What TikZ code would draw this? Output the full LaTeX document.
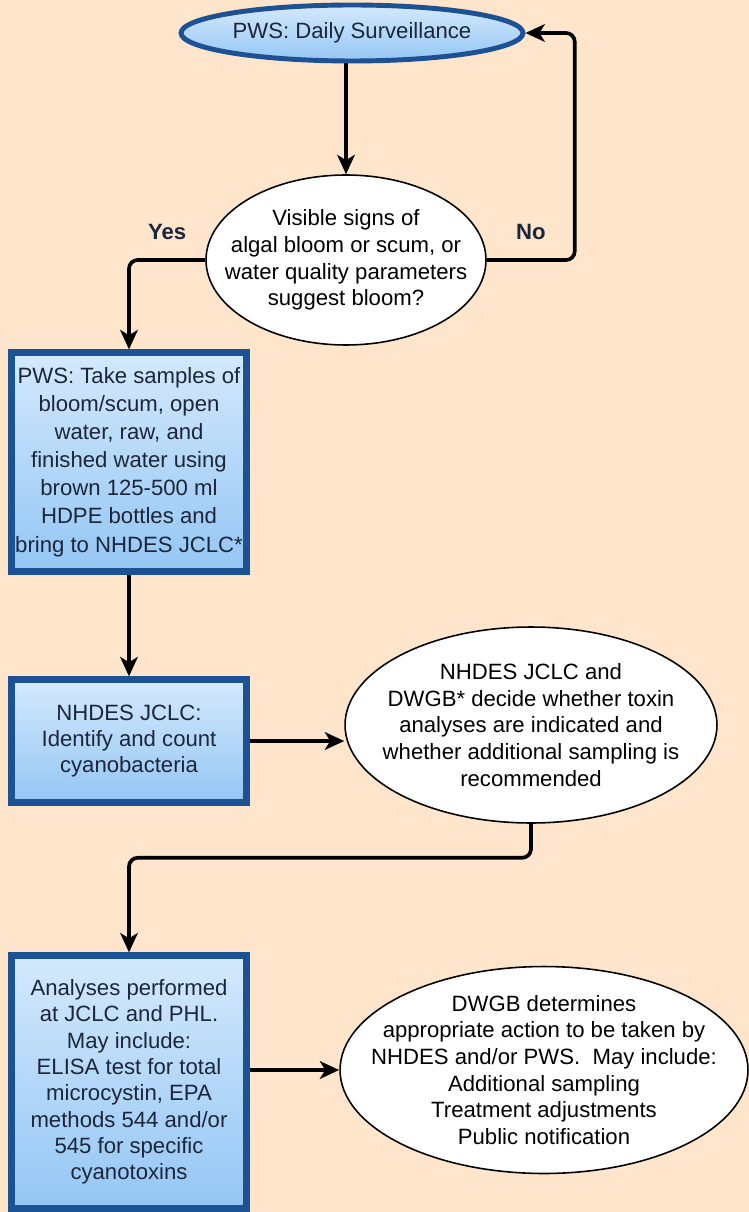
\documentclass[tikz,border=0pt]{standalone}
\usepackage{fontspec}
\setmainfont{Liberation Sans}
\usetikzlibrary{shapes.geometric,arrows.meta}

\definecolor{peach}{RGB}{254,229,204}
\definecolor{boxblue}{RGB}{28,82,148}
\definecolor{boxtop}{RGB}{212,233,252}
\definecolor{boxbot}{RGB}{148,198,244}
\definecolor{ink}{RGB}{28,38,58}

\begin{document}
\begin{tikzpicture}[x=0.02cm, y=-0.02cm, node distance = 1cm]

\tikzstyle{box1}=[rectangle, draw=boxblue, line width=3.6pt, top color=boxtop, bottom color=boxbot, text=ink, align=center, minimum width=4.7cm, inner sep=0pt, font=\fontsize{12.6}{15}\selectfont]
\tikzstyle{start}=[ellipse, draw=boxblue, line width=2.8pt, top color=boxtop, bottom color=boxbot, text=ink, inner xsep=-10pt, inner ysep=0pt, font=\fontsize{12.6}{15.15}\selectfont]
\tikzstyle{bubble}=[ellipse, draw, line width=0.9pt, fill=white, align=center, inner xsep=-24pt, inner ysep=-4pt, font=\fontsize{12.6}{15.15}\selectfont]
\tikzstyle{arrow}=[-{Stealth[length=11pt, width=10pt, inset=3pt]}, line width=2.1pt, rounded corners=5pt]
\tikzstyle{answer}=[font=\fontsize{12.6}{15.15}\selectfont\bfseries, text=ink]

\useasboundingbox (0,0) rectangle (749,1212);
\fill [peach] (0,0) rectangle (749,1212);

\node (Surv) [start, minimum width=6.84cm, minimum height=1.12cm] at (352,33) {PWS: Daily Surveillance};

\node (Bloom) [bubble, minimum width=5.6cm, minimum height=3.4cm] at (346,260) {Visible signs of\\ algal bloom or scum, or\\ water quality parameters\\ suggest bloom?};

\node (Sample) [box1, minimum height=4.38cm, font=\fontsize{12.6}{16}\selectfont] at (129,462) {PWS: Take samples of\\ bloom/scum, open\\ water, raw, and\\ finished water using\\ brown 125-500 ml\\ HDPE bottles and\\ bring to NHDES JCLC*};

\node (Count) [box1, minimum height=2.46cm] at (129,741) {NHDES JCLC:\\ Identify and count\\ cyanobacteria};

\node (Decide) [bubble, minimum width=7.44cm, minimum height=3.92cm] at (531,725) {NHDES JCLC and\\ DWGB* decide whether toxin\\ analyses are indicated and\\ whether additional sampling is\\ recommended};

\node (Analyse) [box1, minimum height=5.06cm] at (129,1082) {Analyses performed\\ at JCLC and PHL.\\ May include:\\ ELISA test for total\\ microcystin, EPA\\ methods 544 and/or\\ 545 for specific\\ cyanotoxins};

\node (Action) [bubble, minimum width=8.16cm, minimum height=4.14cm] at (544,1070) {DWGB determines\\ appropriate action to be taken by\\ NHDES and/or PWS.\ \ May include:\\ Additional sampling\\ Treatment adjustments\\ Public notification};

\draw [arrow] (Surv.south -| Bloom.north) -- (Bloom.north);
\draw [arrow] (Bloom.east) -- node [answer, above = 7pt] {No} ++(88,0) |- (Surv.east);
\draw [arrow] (Bloom.west) -| node [answer, above = 7pt, pos=0.25] {Yes} (Sample.north);
\draw [arrow] (Sample) -- (Count);
\draw [arrow] (Count.east) -- (Count.east -| Decide.west);
\draw [arrow] (Decide.south) -- ++(0,34) -| (Analyse.north);
\draw [arrow] (Analyse.east |- Action.west) -- (Action.west);

\end{tikzpicture}
\end{document}
